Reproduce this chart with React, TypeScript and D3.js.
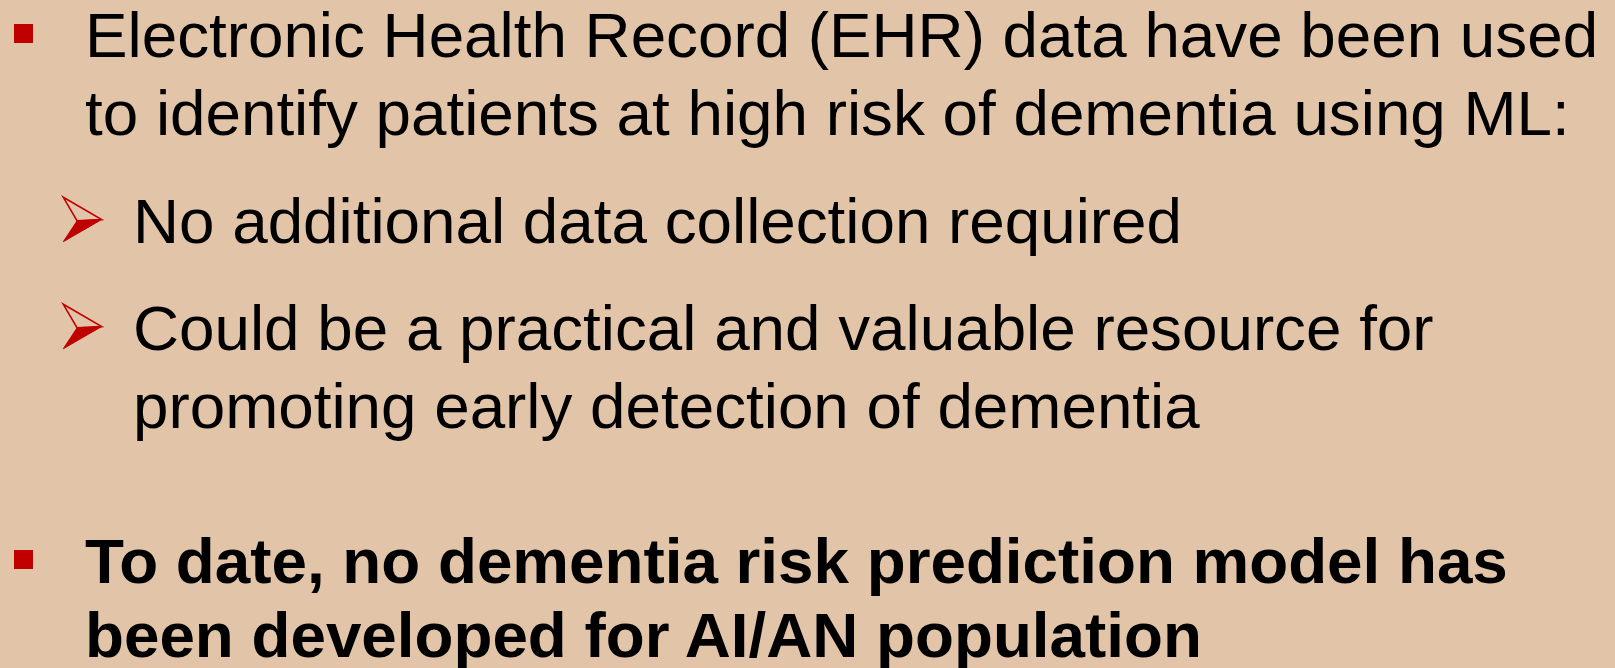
import React from "react";
import * as d3 from "d3";

// Slide content
const paraLevels = [1, 2, 2, 1];
const paraBold = [false, false, false, true];
const paraLines: string[][] = [
  [
    "Electronic Health Record (EHR) data have been used",
    "to identify patients at high risk of dementia using ML:",
  ],
  ["No additional data collection required"],
  [
    "Could be a practical and valuable resource for",
    "promoting early detection of dementia",
  ],
  [
    "To date, no dementia risk prediction model has",
    "been developed for AI/AN population",
  ],
];

const W = 1615;
const H = 668;
const BG = "#E2C4A8";
const RED = "#C00000";
const FONT = "'Liberation Sans', Arial, Helvetica, sans-serif";
const FONT_SIZE = 63.75;

// layout
const firstBaseline = 57;
const lineStep = 78;
const spaceBefore = [0, 30, 29, 77];
const boldLineStep = 74;
const textX: Record<number, number> = { 1: 85, 2: 133 };

export default function App() {
  const rows: { text: string; y: number; level: number; bold: boolean; first: boolean }[] = [];
  let y = firstBaseline - lineStep;
  paraLines.forEach((lines, pi) => {
    lines.forEach((t, li) => {
      const step = li === 0 ? lineStep + spaceBefore[pi] : paraBold[pi] ? boldLineStep : lineStep;
      y += step;
      rows.push({ text: t, y, level: paraLevels[pi], bold: paraBold[pi], first: li === 0 });
    });
  });

  const line = d3.line<[number, number]>();
  const arrowX = d3.scaleLinear().domain([0, 1]).range([63.3, 101.7]);
  const arrowY = (base: number) => d3.scaleLinear().domain([0, 1]).range([base - 45.7, base - 1.3]);

  return (
    <svg
      width={W}
      height={H}
      style={{ position: "absolute", left: 0, top: 0, display: "block" }}
    >
      <rect x={0} y={0} width={W} height={H} fill={BG} />
      {rows.map((r, i) => {
        const ay = arrowY(r.y);
        return (
          <g key={i}>
            {r.first && r.level === 1 && (
              <rect x={14} y={r.y - 33} width={19} height={19} fill={RED} />
            )}
            {r.first && r.level === 2 && (
              <g>
                <path
                  d={
                    line([
                      [arrowX(0.36), ay(0.53)],
                      [arrowX(1), ay(0.5)],
                      [arrowX(0), ay(1)],
                    ]) + "Z"
                  }
                  fill={RED}
                  stroke={RED}
                  strokeWidth={1}
                  strokeLinejoin="miter"
                />
                <path
                  d={
                    line([
                      [arrowX(0), ay(0)],
                      [arrowX(1), ay(0.5)],
                      [arrowX(0.36), ay(0.53)],
                    ]) + "Z"
                  }
                  fill="none"
                  stroke={RED}
                  strokeWidth={1.6}
                  strokeLinejoin="miter"
                />
              </g>
            )}
            <text
              x={textX[r.level]}
              y={r.y}
              fontFamily={FONT}
              fontSize={FONT_SIZE}
              fontWeight={r.bold ? "bold" : "normal"}
              fill="#000"
            >
              {r.text}
            </text>
          </g>
        );
      })}
    </svg>
  );
}
